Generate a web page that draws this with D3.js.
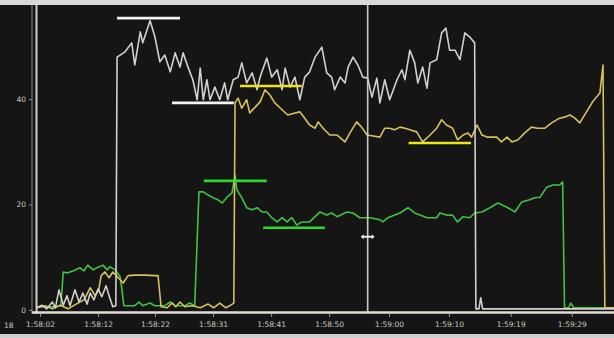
<!DOCTYPE html>
<html>
<head>
<meta charset="utf-8">
<script src="https://cdn.jsdelivr.net/npm/d3@7"></script>
<style>
  html, body { margin: 0; padding: 0; background: #141414; }
  svg { display: block; }
  .axis text { fill: #c9c6c2; font-family: "DejaVu Sans", sans-serif; font-size: 7.5px; }
  .axis path { display: none; }
  .axis line { stroke: #9a9690; }
</style>
</head>
<body>
<div id="chart"></div>
<script>
// [seconds after 1:58:00, value]
const whitePoints = [
  [1.5,0.4],[2.3,0.9],[3.1,0.2],[4.0,1.5],[4.5,0.4],[5.1,3.8],[5.8,0.9],[6.4,2.7],[6.9,0.8],
  [7.7,3.8],[8.4,1.5],[9.0,3.2],[9.7,1.1],[10.2,3.2],[10.8,1.9],[11.5,4.0],[12.1,2.5],[12.8,4.6],
  [13.4,2.3],[13.9,0.6],[14.4,0.8],[14.6,48.0],[15.9,49.0],[17.0,50.7],[17.5,46.5],[18.4,52.8],
  [18.8,50.7],[20.0,54.9],[20.8,51.8],[21.6,47.1],[22.4,48.4],[23.3,45.2],[24.1,48.8],[24.9,46.1],
  [25.4,48.8],[26.2,46.1],[27.0,43.7],[27.7,39.9],[28.2,45.9],[28.7,39.9],[29.3,43.7],[29.8,39.9],
  [30.6,42.3],[31.4,39.9],[32.2,43.1],[32.7,39.9],[33.6,43.7],[34.4,44.2],[35.0,46.9],[35.8,43.1],
  [36.7,45.0],[37.5,41.8],[38.0,44.2],[39.1,47.8],[39.9,44.2],[40.8,45.6],[41.6,41.8],[42.1,45.9],
  [42.9,42.3],[43.7,44.2],[44.5,39.9],[45.3,44.2],[46.1,45.2],[47.0,48.0],[48.1,49.9],[48.9,45.0],
  [49.7,44.2],[50.2,41.8],[51.1,44.2],[51.9,43.1],[52.4,46.1],[53.2,48.0],[54.0,46.5],[54.8,44.2],
  [55.6,44.0],[56.3,40.4],[57.1,44.0],[57.6,39.3],[58.4,43.7],[59.2,39.9],[60.4,43.7],[61.2,45.6],
  [61.7,43.7],[62.5,49.3],[63.3,46.9],[63.8,43.1],[64.6,46.1],[65.3,42.1],[65.8,46.9],[66.9,47.5],
  [67.7,52.6],[68.4,53.5],[69.0,49.3],[69.9,49.3],[70.7,47.5],[71.5,52.6],[72.3,51.8],[73.1,50.7],
  [73.3,0.2],[73.8,0.2],[74.1,2.3],[74.4,0.2],[95.9,0.2]
];

const yellowPoints = [
  [1.5,0.4],[2.8,0.8],[4.0,0.2],[5.3,0.9],[6.6,0.2],[7.9,1.1],[9.2,1.9],[10.2,4.2],[11.0,2.7],
  [11.6,3.8],[12.0,6.5],[12.6,7.2],[13.3,6.1],[13.9,7.2],[14.8,6.1],[15.6,5.1],[16.4,6.5],[17.5,6.6],
  [19.2,6.6],[20.8,6.5],[21.3,6.5],[21.8,0.6],[22.8,0.4],[23.6,1.3],[24.2,0.6],[24.9,1.5],[25.7,0.6],
  [26.9,0.8],[28.2,0.4],[29.5,1.1],[30.4,0.4],[31.4,1.3],[32.4,0.4],[33.2,0.9],[33.7,1.3],
  [33.9,39.3],[34.4,40.2],[35.0,38.3],[35.8,39.9],[36.3,37.4],[37.2,38.5],[38.0,39.5],[38.8,41.8],
  [39.6,40.8],[40.4,39.3],[41.6,38.0],[42.5,37.0],[43.7,37.4],[44.5,37.6],[45.3,36.4],[46.1,35.1],
  [47.0,34.5],[47.5,35.7],[48.3,34.5],[49.4,33.2],[50.6,33.2],[51.9,31.9],[52.7,33.6],[53.8,35.7],
  [54.6,34.7],[55.5,33.2],[57.6,32.8],[58.4,34.5],[59.2,34.5],[60.0,34.2],[60.9,34.7],[61.7,34.5],
  [62.5,34.2],[63.6,33.8],[64.6,31.9],[65.8,33.2],[66.9,34.5],[67.7,36.1],[68.5,35.1],[69.5,34.5],
  [70.3,32.3],[71.2,33.2],[72.0,33.6],[72.6,32.8],[73.5,35.1],[74.3,33.2],[75.2,32.8],[76.7,32.8],
  [77.5,31.9],[78.4,32.8],[79.2,31.9],[80.2,32.3],[81.3,33.6],[82.4,34.7],[83.4,34.5],[84.6,34.5],
  [85.7,35.5],[87.0,36.4],[87.8,36.6],[88.7,37.0],[89.5,36.4],[90.3,35.5],[91.4,37.6],[92.4,39.5],
  [93.6,41.2],[94.1,46.5],[94.4,0.4],[95.9,0.4]
];

const greenPoints = [
  [1.5,0.6],[4.5,0.6],[5.4,0.8],[5.8,7.2],[6.4,7.0],[7.4,7.4],[8.5,8.0],[9.2,7.4],[9.8,8.5],
  [10.7,7.6],[11.3,8.0],[12.3,8.5],[13.0,7.6],[13.4,8.2],[14.3,7.6],[15.1,6.3],[15.4,3.8],[15.7,0.8],
  [17.5,0.8],[18.2,1.5],[18.8,0.8],[20.0,1.3],[20.8,0.8],[22.4,0.8],[23.3,1.5],[24.1,0.8],[25.7,0.8],
  [26.5,1.3],[27.3,0.8],[28.0,22.4],[28.7,22.4],[29.5,21.8],[30.3,21.3],[31.1,20.9],[31.8,20.3],
  [32.6,21.4],[33.4,22.2],[33.9,25.6],[34.2,22.8],[35.0,21.3],[35.8,19.4],[36.7,19.0],[37.5,19.4],
  [38.3,18.6],[39.1,18.6],[39.9,17.5],[40.8,16.7],[41.6,17.5],[42.4,16.7],[43.2,17.5],[44.0,16.1],
  [44.8,16.7],[46.1,16.7],[47.8,18.6],[48.9,18.0],[49.7,18.4],[50.6,17.7],[52.2,18.6],[53.2,18.4],
  [54.3,17.5],[56.0,17.5],[57.6,17.1],[58.1,16.7],[58.9,17.5],[60.9,18.4],[62.2,19.4],[63.3,18.4],
  [65.3,17.5],[66.9,17.5],[67.4,18.4],[68.5,18.0],[69.5,18.0],[70.3,16.7],[71.2,17.7],[72.3,17.5],
  [73.1,18.4],[74.3,18.6],[75.6,19.4],[76.9,20.3],[78.4,19.5],[79.7,18.6],[80.8,20.5],[82.1,20.9],
  [82.9,21.3],[83.8,21.4],[84.9,23.3],[85.9,23.7],[87.0,23.7],[87.5,24.3],[87.8,0.4],[88.5,0.4],
  [88.8,1.3],[89.3,0.4],[95.9,0.4]
];

// hand-drawn marker bars: [from s, to s, value, colour]
const markerBars = [
  [14.6, 24.9, 55.4, '#f4f4f4'],
  [23.6, 33.7, 39.3, '#f4f4f4'],
  [34.7, 44.8, 42.5, '#eee21c'],
  [62.3, 72.5, 31.7, '#eee21c'],
  [28.8, 39.1, 24.5, '#2ed632'],
  [38.5, 48.6, 15.6, '#2ed632']
];

const tickSeconds = [2.0, 11.5, 20.8, 30.3, 39.8, 49.3, 59.1, 68.9, 79.0, 89.0];
const tickLabels = ['1:58:02', '1:58:12', '1:58:22', '1:58:31', '1:58:41', '1:58:50',
  '1:59:00', '1:59:10', '1:59:19', '1:59:29'];
const yTicks = [0, 20, 40];
const cursorSecond = 55.6;
const cursorValue = 13.9;

const width = 614;
const height = 338;

const svg = d3.select('#chart').append('svg')
  .attr('width', width)
  .attr('height', height);

svg.append('rect').attr('width', width).attr('height', height).attr('fill', '#151515');
// light strips at top and bottom of the photo
svg.append('rect').attr('width', width).attr('height', 5).attr('fill', '#d9d9d9');
svg.append('rect').attr('y', 334).attr('width', width).attr('height', 4).attr('fill', '#cfcfcf');

const x = d3.scaleLinear().domain([1.5, 95.9]).range([37, 614]);
const y = d3.scaleLinear().domain([-0.4, 57.7]).range([312, 6]);

// axes
svg.append('g')
  .attr('class', 'axis')
  .attr('transform', 'translate(32,0)')
  .call(d3.axisLeft(y).tickValues(yTicks).tickSize(3).tickPadding(3));

svg.append('g')
  .attr('class', 'axis')
  .attr('transform', 'translate(0,314)')
  .call(d3.axisBottom(x).tickValues(tickSeconds).tickSize(3).tickPadding(5)
    .tickFormat((d, i) => tickLabels[i]));

svg.append('text')
  .attr('x', 4).attr('y', 328)
  .attr('fill', '#c9c6c2')
  .style('font-family', '"DejaVu Sans", sans-serif')
  .style('font-size', '7.5px')
  .text('18');

// y axis double line and x baseline
svg.append('line').attr('x1', 32).attr('x2', 32).attr('y1', 5).attr('y2', 314)
  .attr('stroke', '#8e8a86').attr('stroke-width', 1);
svg.append('line').attr('x1', 36.5).attr('x2', 36.5).attr('y1', 5).attr('y2', 314)
  .attr('stroke', '#d6cec6').attr('stroke-width', 2);

const line = d3.line()
  .x(d => x(d[0]))
  .y(d => y(d[1]));

const series = [
  [greenPoints, '#41c046'],
  [yellowPoints, '#d6c060'],
  [whitePoints, '#d4d0cc']
];

svg.selectAll('path.series')
  .data(series)
  .enter()
  .append('path')
  .attr('class', 'series')
  .attr('d', d => line(d[0]))
  .attr('fill', 'none')
  .attr('stroke', d => d[1])
  .attr('stroke-width', 1.6)
  .attr('stroke-linejoin', 'round');

svg.append('line').attr('x1', 32).attr('x2', width).attr('y1', 312.5).attr('y2', 312.5)
  .attr('stroke', '#e2dcd6').attr('stroke-width', 2.5);

// cursor
svg.append('line')
  .attr('x1', x(cursorSecond)).attr('x2', x(cursorSecond))
  .attr('y1', 5).attr('y2', 312)
  .attr('stroke', '#c8c6c4').attr('stroke-width', 1.6);

const cx = x(cursorSecond);
const cy = y(cursorValue);
svg.append('path')
  .attr('d', `M${cx - 7},${cy} L${cx - 4},${cy - 2.5} L${cx - 4},${cy - 1} L${cx + 4},${cy - 1} L${cx + 4},${cy - 2.5} L${cx + 7},${cy} L${cx + 4},${cy + 2.5} L${cx + 4},${cy + 1} L${cx - 4},${cy + 1} L${cx - 4},${cy + 2.5} Z`)
  .attr('fill', '#e6e6e6');

// marker bars
svg.selectAll('line.bar')
  .data(markerBars)
  .enter()
  .append('line')
  .attr('class', 'bar')
  .attr('x1', d => x(d[0]))
  .attr('x2', d => x(d[1]))
  .attr('y1', d => y(d[2]))
  .attr('y2', d => y(d[2]))
  .attr('stroke', d => d[3])
  .attr('stroke-width', 2.6);
</script>
</body>
</html>
